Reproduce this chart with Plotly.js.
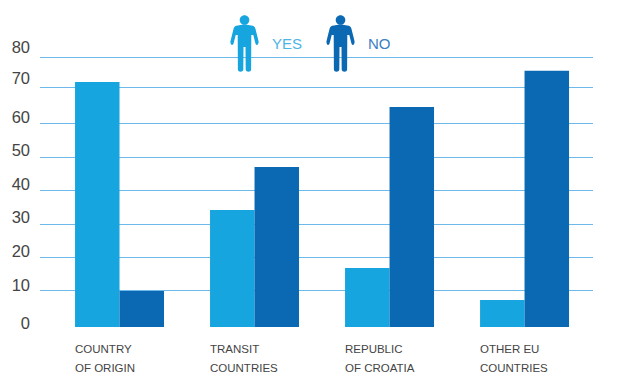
<!DOCTYPE html>
<html>
<head>
<meta charset="utf-8">
<script src="https://cdn.plot.ly/plotly-3.0.1.min.js"></script>
<style>html,body{margin:0;padding:0;background:#fff}</style>
</head>
<body>
<div id="chart" style="width:621px;height:374px"></div>
<script>
// Answers per region, in percent
const captionFirstLines = ['COUNTRY', 'TRANSIT', 'REPUBLIC', 'OTHER EU'];
const captionSecondLines = ['OF ORIGIN', 'COUNTRIES', 'OF CROATIA', 'COUNTRIES'];
const yesValues = [72.6, 34.7, 17.5, 8.0];
const noValues = [10.7, 47.4, 65.2, 75.9];

// Printed scale: the label row and the rule row sit at their own heights
const tickLabels = ['0', '10', '20', '30', '40', '50', '60', '70', '80'];
const labelHeights = [1.2, 12.5, 22.5, 32.6, 42.4, 52.4, 62.3, 73.6, 83.0];
const ruleHeights = [0, 10.7, 20.6, 30.4, 40.3, 50.1, 60.4, 70.9, 80];

const YES_COLOR = '#16a5df';
const NO_COLOR = '#0b68b3';
const RULE_COLOR = '#6db9ea';
const TEXT_COLOR = '#444444';
const WIDTH = 621, HEIGHT = 374;
const M = {l: 40, r: 28, t: 17, b: 47};
const plotH = HEIGHT - M.t - M.b;

// Standing figure, in pixels from the top centre of the figure (y grows upward)
const K = 2.65; // control offset that makes a 4.8 px circle from four curves
const personPath = [
  'M -6.6 -10.6',
  'C -9.4 -10.6 -10.4 -12 -11 -14',
  'L -14 -26',
  'C -14.6 -30 -11.6 -31.4 -10.8 -28',
  'L -8.8 -20',
  'L -6.8 -20',
  'L -6.6 -54.6',
  'C -6.6 -57.6 -1.4 -57.6 -1.2 -54.6',
  'L -1 -32',
  'L 1 -32',
  'L 1.2 -54.6',
  'C 1.4 -57.6 6.6 -57.6 6.6 -54.6',
  'L 6.8 -20',
  'L 8.8 -20',
  'L 10.8 -28',
  'C 11.6 -31.4 14.6 -30 14 -26',
  'L 11 -14',
  'C 10.4 -12 9.4 -10.6 6.6 -10.6',
  'L 1 -9.4',
  'L -1 -9.4',
  'Z'
].join(' ');
const headPath = [
  'M -4.8 -5',
  `C -4.8 ${-5 + K} ${-K} -0.2 0 -0.2`,
  `C ${K} -0.2 4.8 ${-5 + K} 4.8 -5`,
  `C 4.8 ${-5 - K} ${K} -9.8 0 -9.8`,
  `C ${-K} -9.8 -4.8 ${-5 - K} -4.8 -5`,
  'Z'
].join(' ');

function person(px, color) {
  return [personPath, headPath].map(path => ({
    type: 'path', layer: 'above',
    xref: 'paper', yref: 'paper',
    xsizemode: 'pixel', ysizemode: 'pixel',
    xanchor: (px - M.l) / (WIDTH - M.l - M.r),
    yanchor: (HEIGHT - M.b - 15) / plotH,
    path: path,
    fillcolor: color,
    line: {width: 0}
  }));
}

function legendText(px, text, color) {
  return {
    xref: 'paper', yref: 'paper',
    x: (px - M.l) / (WIDTH - M.l - M.r),
    y: (HEIGHT - M.b - 43) / plotH,
    xanchor: 'left', yanchor: 'middle',
    showarrow: false, text: text,
    font: {family: 'Liberation Sans', size: 15, color: color}
  };
}

const xIndex = captionFirstLines.map((_, i) => i);

// Category captions are set flush with the left edge of each bar pair
function captionLine(text, i, centrePx) {
  return {
    xref: 'x', yref: 'paper',
    x: i, xshift: -47,
    y: (HEIGHT - M.b - centrePx) / plotH,
    xanchor: 'left', yanchor: 'middle',
    showarrow: false, text: text,
    font: {family: 'Liberation Sans', size: 11.5, color: TEXT_COLOR}
  };
}
const captions = captionFirstLines.map((t, i) => captionLine(t, i, 349))
  .concat(captionSecondLines.map((t, i) => captionLine(t, i, 368)));

const traces = [
  {type: 'bar', name: 'YES', x: xIndex, y: yesValues, marker: {color: YES_COLOR, line: {width: 0}}},
  {type: 'bar', name: 'NO', x: xIndex, y: noValues, marker: {color: NO_COLOR, line: {width: 0}}}
];

const layout = {
  width: WIDTH, height: HEIGHT,
  margin: M,
  paper_bgcolor: '#ffffff', plot_bgcolor: '#ffffff',
  showlegend: false,
  barmode: 'group', bargap: 0.341, bargroupgap: 0,
  xaxis: {
    range: [-0.589, 3.507],
    showgrid: false, zeroline: false, showline: false,
    ticks: '', showticklabels: false, fixedrange: true,
    tickvals: xIndex
  },
  yaxis: {
    range: [0, (HEIGHT - M.b - M.t) / 3.375],
    tickmode: 'array', tickvals: labelHeights, ticktext: tickLabels,
    ticks: '', showgrid: false, zeroline: false, showline: false,
    ticklabelstandoff: 9,
    tickfont: {family: 'Liberation Sans', size: 16.5, color: TEXT_COLOR},
    fixedrange: true,
    minor: {
      tickmode: 'array', tickvals: ruleHeights, ticks: '',
      showgrid: true, gridcolor: RULE_COLOR, gridwidth: 1.3
    }
  },
  shapes: person(244.5, YES_COLOR).concat(person(340.5, NO_COLOR)),
  annotations: [
    legendText(270, 'YES', '#4db5e6'),
    legendText(366, 'NO', '#3a80c2')
  ].concat(captions)
};

Plotly.newPlot('chart', traces, layout, {displayModeBar: false, responsive: false});
</script>
</body>
</html>
